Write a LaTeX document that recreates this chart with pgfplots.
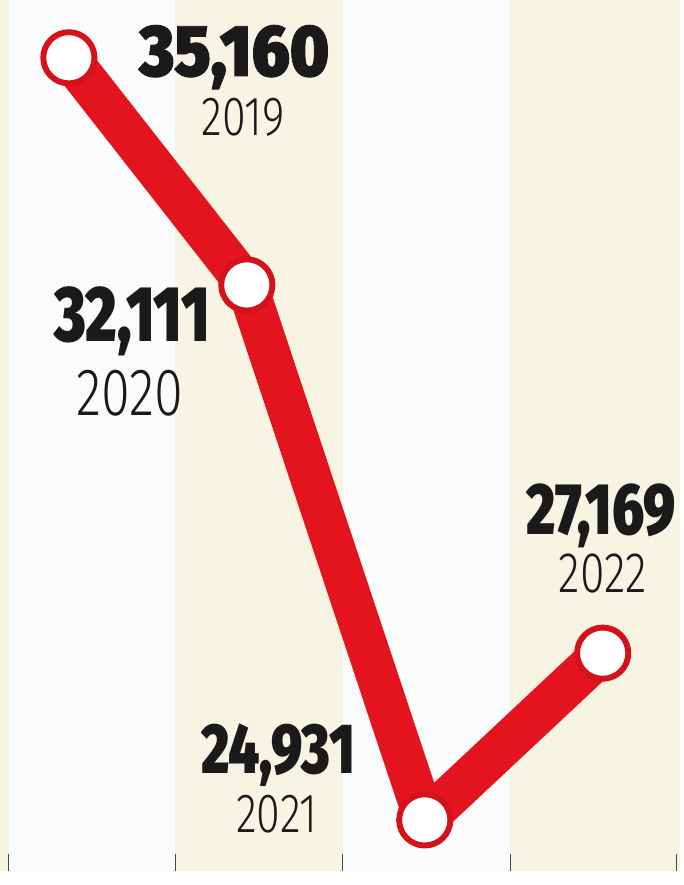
\documentclass[border=0pt]{standalone}
\usepackage{pgfplots}
\pgfplotsset{compat=1.18}
\usepackage{fontspec}
\setmainfont{Fira Sans}
\IfFontExistsTF{Fira Sans Black}
  {\newfontfamily\numfont[FakeStretch=0.76]{Fira Sans Black}
   \newfontfamily\bignumfont[FakeStretch=0.9, FakeBold=1.2]{Fira Sans Black}}
  {\newfontfamily\numfont[FakeStretch=0.76, FakeBold=1.5]{Fira Sans}
   \newfontfamily\bignumfont[FakeStretch=0.9, FakeBold=2.5]{Fira Sans}\def\numbold{}}
\IfFontExistsTF{Fira Sans Light}
  {\newfontfamily\yearfont[FakeStretch=0.78]{Fira Sans Light}}
  {\newfontfamily\yearfont[FakeStretch=0.78]{Fira Sans}}
\ifdefined\numbold \renewcommand\numbold{\bfseries}\else\newcommand\numbold{}\fi
\definecolor{linered}{HTML}{E3141E}
\definecolor{ringred}{HTML}{D3121C}
\definecolor{beige}{HTML}{F7F4E4}
\definecolor{paleband}{HTML}{FAFBFC}
\definecolor{ink}{HTML}{1A1A1A}
\tikzset{lbl/.style={anchor=base, text=ink, inner sep=0pt}}

\begin{document}
\begin{tikzpicture}
\begin{axis}[
    scale only axis,
    width=345.5pt, height=442.5pt,
    xmin=2018.6129, xmax=2022.4369,
    ymin=24238.7, ymax=35935.7,
    clip=false,
    axis line style={draw=none},
    axis background/.style={fill=beige},
    ytick=\empty,
    xtick={2018.6627,2019.5980,2020.5387,2021.4795,2022.4148},
    xticklabels={},
    xtick pos=bottom,
    xtick align=inside,
    major tick length=9pt,
    every tick/.style={draw=ink!80, line width=0.8pt},
  ]
  % pale bands
  \addplot[draw=none, fill=paleband] coordinates {(2018.6627,24238.7) (2018.6627,35935.7) (2019.5980,35935.7) (2019.5980,24238.7)};
  \addplot[draw=none, fill=paleband] coordinates {(2020.5387,24238.7) (2020.5387,35935.7) (2021.4795,35935.7) (2021.4795,24238.7)};

  % the series
  \addplot[linered, line width=21pt, line join=round,
    mark=*, mark size=13pt,
    mark options={draw=ringred, fill=white, line width=3pt}]
    coordinates {(2019,35160) (2020,32111) (2021,24931) (2022,27169)};

  % labels
  \node[lbl, font=\bignumfont\numbold\fontsize{37}{37}\selectfont] at (axis cs:2019.930,34918) {35,160};
  \node[lbl, font=\yearfont\fontsize{28}{28}\selectfont] at (axis cs:2019.980,34112) {2019};
  \node[lbl, font=\numfont\numbold\fontsize{40}{40}\selectfont] at (axis cs:2019.357,31349) {32,111};
  \node[lbl, font=\yearfont\fontsize{34}{34}\selectfont] at (axis cs:2019.343,30358) {2020};
  \node[lbl, font=\numfont\numbold\fontsize{36}{36}\selectfont] at (axis cs:2020.176,25560) {24,931};
  \node[lbl, font=\yearfont\fontsize{28}{28}\selectfont] at (axis cs:2020.168,24767) {2021};
  \node[lbl, font=\numfont\numbold\fontsize{37}{37}\selectfont] at (axis cs:2021.991,28760) {27,169};
  \node[lbl, font=\yearfont\fontsize{29}{29}\selectfont] at (axis cs:2022.0,27979) {2022};
\end{axis}
\end{tikzpicture}
\end{document}
